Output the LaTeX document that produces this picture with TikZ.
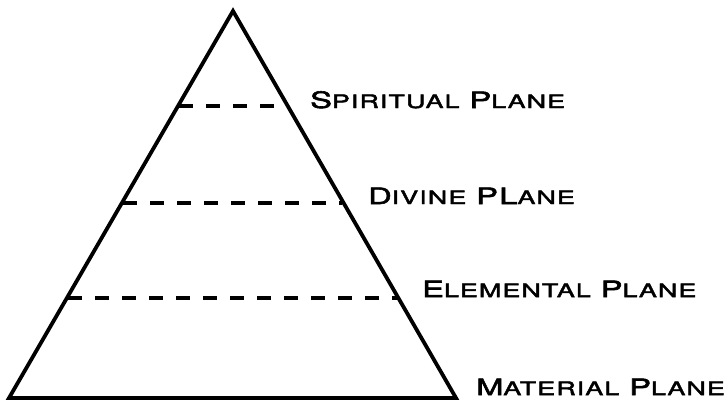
\documentclass[tikz,border=0pt]{standalone}
\usepackage{fontspec}
\newfontfamily\labfont[FakeStretch=1.45,FakeBold=2.6,LetterSpace=6]{TeX Gyre Heros}
\newcommand{\BC}[1]{{\fontsize{22.5}{26}\selectfont #1}}
\newcommand{\SC}[1]{{\fontsize{18.5}{22}\selectfont #1}}
\newcommand{\WS}{\hspace{10pt}}
\begin{document}
\begin{tikzpicture}[x=1pt,y=-1pt,
  tri/.style={line width=3.8pt,line join=miter},
  dline/.style={line width=3.6pt,dash pattern=on 14pt off 13pt},
  lab/.style={anchor=base west,inner sep=0pt,font=\labfont}]
\useasboundingbox (0,0) rectangle (727,400);
\coordinate (A) at (233,11);
\coordinate (L) at (9,398);
\coordinate (R) at (456,398);
\draw[tri] (L) -- (A) -- (R) -- cycle;
\coordinate (s1) at (179,106); \coordinate (s2) at (288,106);
\coordinate (d1) at (123,203); \coordinate (d2) at (342,203);
\coordinate (e1) at (68,298); \coordinate (e2) at (397,298);
\draw[dline] (s1) -- (s2);
\draw[dline] (d1) -- (d2);
\draw[dline] (e1) -- (e2);
\node[lab] (sp) at (310,108) {\BC{S}\SC{PIRITUAL}\WS\BC{P}\SC{LANE}};
\node[lab] (dp) at (368,204) {\BC{D}\SC{IVINE}\WS\BC{PL}\SC{ANE}};
\node[lab] (ep) at (422,297) {\BC{E}\SC{LEMENTAL}\WS\BC{P}\SC{LANE}};
\node[lab] (mp) at (476,395) {\BC{M}\SC{ATERIAL}\WS\BC{P}\SC{LANE}};
\end{tikzpicture}
\end{document}
